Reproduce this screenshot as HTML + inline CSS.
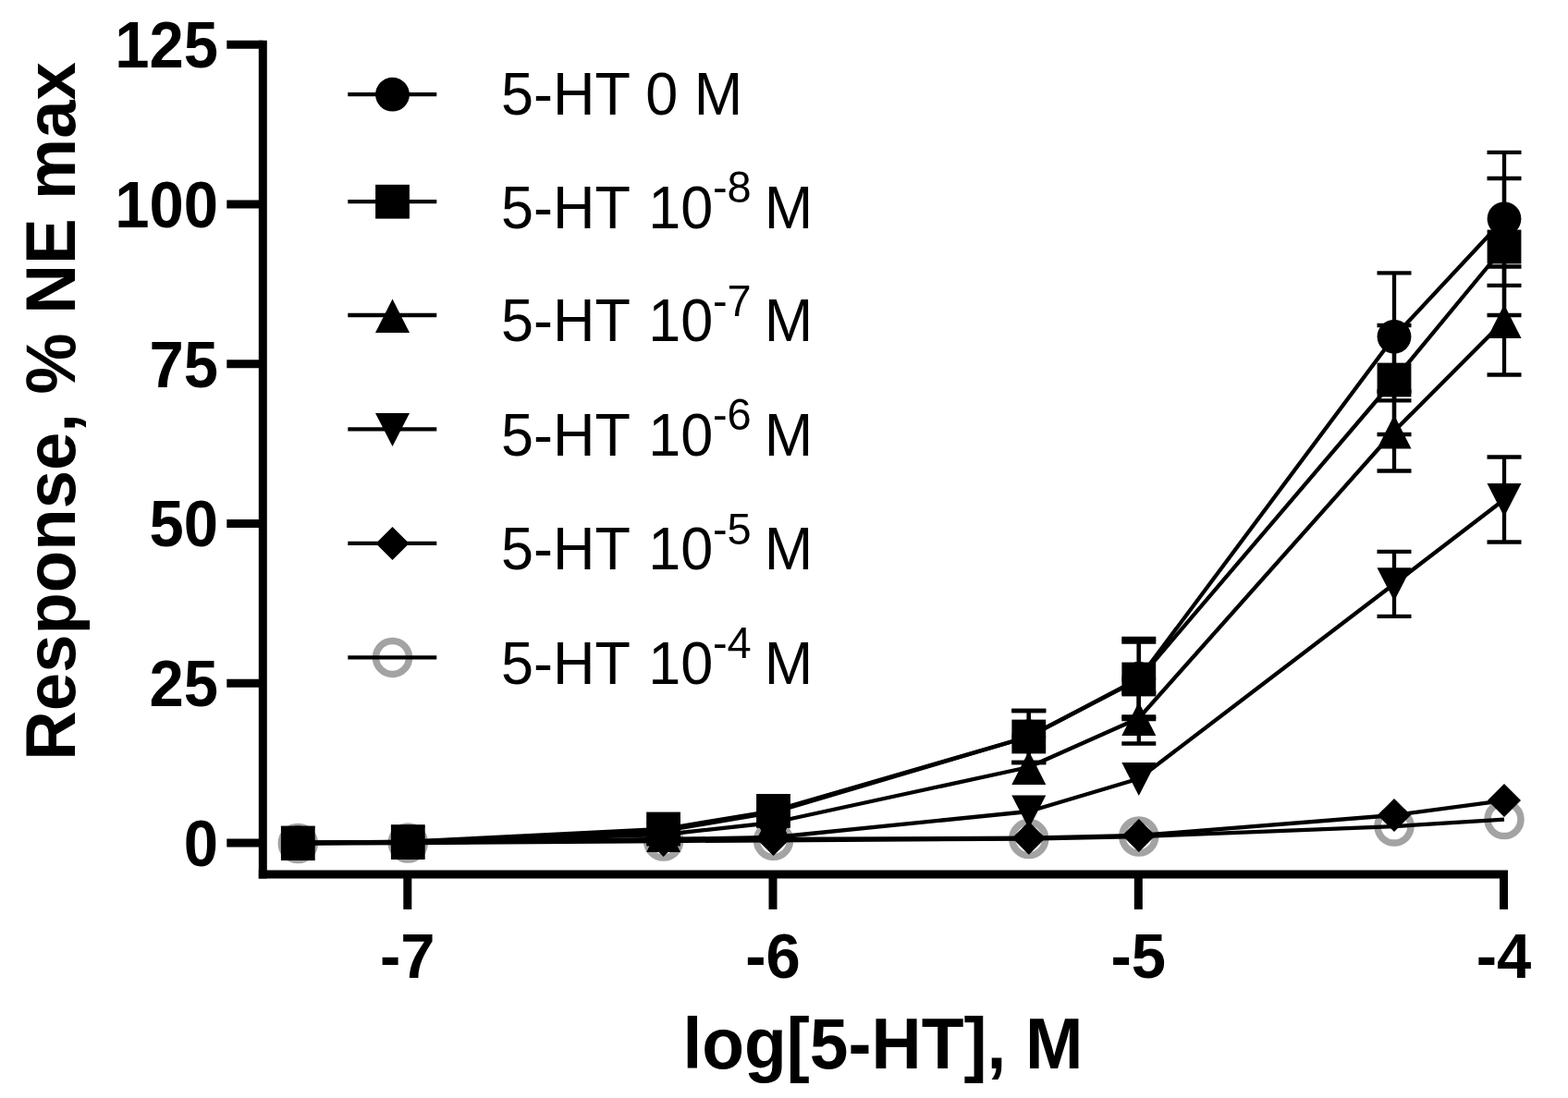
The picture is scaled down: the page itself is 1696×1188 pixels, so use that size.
<!DOCTYPE html>
<html lang="en">
<head>
<meta charset="utf-8">
<title>5-HT concentration response</title>
<style>
html, body { margin: 0; padding: 0; background: #ffffff; }
body { width: 1696px; height: 1188px; overflow: hidden; }
svg { display: block; }
#chart { width: 1696px; height: 1188px; filter: blur(0.65px); }
text { font-family: "Liberation Sans", Arial, Helvetica, sans-serif; fill: #000; }
.tick { font-weight: bold; font-size: 67px; }
.title { font-weight: bold; font-size: 75px; }
.leg { font-size: 63px; }
.sup { font-size: 47px; }
</style>
</head>
<body>
<div id="chart">
<svg width="1696" height="1188" viewBox="0 0 1696 1188">
<rect x="0" y="0" width="1696" height="1188" fill="#ffffff"/>

<g class="s-gray" fill="#000" stroke="none">
<circle cx="322.3" cy="912.5" r="18" fill="none" stroke="#a3a3a3" stroke-width="7.5"/>
<circle cx="441.3" cy="912.0" r="18" fill="none" stroke="#a3a3a3" stroke-width="7.5"/>
<circle cx="717.6" cy="910.0" r="18" fill="none" stroke="#a3a3a3" stroke-width="7.5"/>
<circle cx="836.5" cy="909.3" r="18" fill="none" stroke="#a3a3a3" stroke-width="7.5"/>
<circle cx="1112.8" cy="907.6" r="18" fill="none" stroke="#a3a3a3" stroke-width="7.5"/>
<circle cx="1231.8" cy="905.0" r="18" fill="none" stroke="#a3a3a3" stroke-width="7.5"/>
<circle cx="1508.0" cy="894.1" r="18" fill="none" stroke="#a3a3a3" stroke-width="7.5"/>
<circle cx="1627.0" cy="886.6" r="18" fill="none" stroke="#a3a3a3" stroke-width="7.5"/>
<polyline points="322.3,912.5 441.3,912.0 717.6,910.0 836.5,909.3 1112.8,907.6 1231.8,905.0 1508.0,894.1 1627.0,886.6" fill="none" stroke="#000" stroke-width="4.3" stroke-linejoin="round"/>
</g>
<g class="s-dia" fill="#000" stroke="none">
<polyline points="322.3,912.0 441.3,911.5 717.6,909.0 836.5,908.0 1112.8,906.7 1231.8,904.0 1508.0,882.0 1627.0,866.1" fill="none" stroke="#000" stroke-width="4.3" stroke-linejoin="round"/>
<polygon points="322.3,894.0 340.3,912.0 322.3,930.0 304.3,912.0"/>
<polygon points="441.3,893.5 459.3,911.5 441.3,929.5 423.3,911.5"/>
<polygon points="717.6,891.0 735.6,909.0 717.6,927.0 699.6,909.0"/>
<polygon points="836.5,890.0 854.5,908.0 836.5,926.0 818.5,908.0"/>
<polygon points="1112.8,888.7 1130.8,906.7 1112.8,924.7 1094.8,906.7"/>
<polygon points="1231.8,886.0 1249.8,904.0 1231.8,922.0 1213.8,904.0"/>
<polygon points="1508.0,864.0 1526.0,882.0 1508.0,900.0 1490.0,882.0"/>
<polygon points="1627.0,848.1 1645.0,866.1 1627.0,884.1 1609.0,866.1"/>
</g>
<g class="s-dtri" fill="#000" stroke="none">
<path d="M1508.0,596.8V666.8M1489.5,596.8h37M1489.5,666.8h37M1627.0,494.5V586.5M1608.5,494.5h37M1608.5,586.5h37" fill="none" stroke="#000" stroke-width="4.3"/>
<polyline points="322.3,912.0 441.3,911.5 717.6,908.0 836.5,906.0 1112.8,878.0 1231.8,842.5 1508.0,631.8 1627.0,540.5" fill="none" stroke="#000" stroke-width="4.3" stroke-linejoin="round"/>
<polygon points="322.3,930.5 340.8,894.5 303.8,894.5"/>
<polygon points="441.3,930.0 459.8,894.0 422.8,894.0"/>
<polygon points="717.6,926.5 736.1,890.5 699.1,890.5"/>
<polygon points="836.5,924.5 855.0,888.5 818.0,888.5"/>
<polygon points="1112.8,896.5 1131.3,860.5 1094.3,860.5"/>
<polygon points="1231.8,861.0 1250.3,825.0 1213.3,825.0"/>
<polygon points="1508.0,650.2 1526.5,614.2 1489.5,614.2"/>
<polygon points="1627.0,559.0 1645.5,523.0 1608.5,523.0"/>
</g>
<g class="s-tri" fill="#000" stroke="none">
<path d="M1231.8,749.5V804.5M1213.3,749.5h37M1213.3,804.5h37M1508.0,423.5V509.5M1489.5,423.5h37M1489.5,509.5h37M1627.0,288.5V405.5M1608.5,288.5h37M1608.5,405.5h37" fill="none" stroke="#000" stroke-width="4.3"/>
<polyline points="322.3,912.0 441.3,911.0 717.6,903.0 836.5,890.0 1112.8,830.0 1231.8,777.0 1508.0,466.5 1627.0,347.0" fill="none" stroke="#000" stroke-width="4.3" stroke-linejoin="round"/>
<polygon points="322.3,894.5 340.8,931.0 303.8,931.0"/>
<polygon points="441.3,893.5 459.8,930.0 422.8,930.0"/>
<polygon points="717.6,885.5 736.1,922.0 699.1,922.0"/>
<polygon points="836.5,872.5 855.0,909.0 818.0,909.0"/>
<polygon points="1112.8,812.5 1131.3,849.0 1094.3,849.0"/>
<polygon points="1231.8,759.5 1250.3,796.0 1213.3,796.0"/>
<polygon points="1508.0,449.0 1526.5,485.5 1489.5,485.5"/>
<polygon points="1627.0,329.5 1645.5,366.0 1608.5,366.0"/>
</g>
<g class="s-square" fill="#000" stroke="none">
<path d="M1112.8,769.0V825.0M1094.3,769.0h37M1094.3,825.0h37M1231.8,694.5V775.5M1213.3,694.5h37M1213.3,775.5h37M1508.0,352.0V470.0M1489.5,352.0h37M1489.5,470.0h37M1627.0,193.0V341.0M1608.5,193.0h37M1608.5,341.0h37" fill="none" stroke="#000" stroke-width="4.3"/>
<polyline points="322.3,912.0 441.3,910.6 717.6,897.0 836.5,877.4 1112.8,797.0 1231.8,735.0 1508.0,411.0 1627.0,267.0" fill="none" stroke="#000" stroke-width="4.3" stroke-linejoin="round"/>
<rect x="303.9" y="893.6" width="36.8" height="36.8"/>
<rect x="422.9" y="892.2" width="36.8" height="36.8"/>
<rect x="699.2" y="878.6" width="36.8" height="36.8"/>
<rect x="818.1" y="859.0" width="36.8" height="36.8"/>
<rect x="1094.4" y="778.6" width="36.8" height="36.8"/>
<rect x="1213.4" y="716.6" width="36.8" height="36.8"/>
<rect x="1489.6" y="392.6" width="36.8" height="36.8"/>
<rect x="1608.6" y="248.6" width="36.8" height="36.8"/>
</g>
<g class="s-circle" fill="#000" stroke="none">
<path d="M1112.8,769.0V825.0M1094.3,769.0h37M1094.3,825.0h37M1231.8,691.0V778.0M1213.3,691.0h37M1213.3,778.0h37M1508.0,295.3V433.3M1489.5,295.3h37M1489.5,433.3h37M1627.0,164.8V308.8M1608.5,164.8h37M1608.5,308.8h37" fill="none" stroke="#000" stroke-width="4.3"/>
<polyline points="322.3,912.0 441.3,911.0 717.6,899.0 836.5,879.0 1112.8,797.0 1231.8,734.5 1508.0,364.3 1627.0,236.8" fill="none" stroke="#000" stroke-width="4.3" stroke-linejoin="round"/>
<circle cx="322.3" cy="912.0" r="18.4"/>
<circle cx="441.3" cy="911.0" r="18.4"/>
<circle cx="717.6" cy="899.0" r="18.4"/>
<circle cx="836.5" cy="879.0" r="18.4"/>
<circle cx="1112.8" cy="797.0" r="18.4"/>
<circle cx="1231.8" cy="734.5" r="18.4"/>
<circle cx="1508.0" cy="364.3" r="18.4"/>
<circle cx="1627.0" cy="236.8" r="18.4"/>
</g>
<g fill="none" stroke="#000" stroke-width="9.0" stroke-linecap="butt">
<path d="M284.3,43.8V950.4"/>
<path d="M279.8,945.9H1631.0"/>
<path d="M245.3,912.0H284.3"/>
<path d="M245.3,739.3H284.3"/>
<path d="M245.3,566.5H284.3"/>
<path d="M245.3,393.8H284.3"/>
<path d="M245.3,221.0H284.3"/>
<path d="M245.3,48.3H284.3"/>
<path d="M440.8,945.9V983.9"/>
<path d="M836.0,945.9V983.9"/>
<path d="M1231.3,945.9V983.9"/>
<path d="M1626.5,945.9V983.9"/>
</g>
<g class="tick">
<text transform="translate(236,936.7) scale(1,1.04)" text-anchor="end">0</text>
<text transform="translate(236,764.0) scale(1,1.04)" text-anchor="end">25</text>
<text transform="translate(236,591.2) scale(1,1.04)" text-anchor="end">50</text>
<text transform="translate(236,418.5) scale(1,1.04)" text-anchor="end">75</text>
<text transform="translate(236,245.7) scale(1,1.04)" text-anchor="end">100</text>
<text transform="translate(236,73.0) scale(1,1.04)" text-anchor="end">125</text>
<text transform="translate(440.8,1058) scale(1,1.035)" text-anchor="middle">-7</text>
<text transform="translate(836.0,1058) scale(1,1.035)" text-anchor="middle">-6</text>
<text transform="translate(1231.3,1058) scale(1,1.035)" text-anchor="middle">-5</text>
<text transform="translate(1626.5,1058) scale(1,1.035)" text-anchor="middle">-4</text>
</g>
<text class="title" transform="translate(955,1155.5) scale(1,1.025)" text-anchor="middle">log[5-HT], M</text>
<text class="title" style="font-size:74.3px" transform="translate(80.6,445) rotate(-90) scale(1,1.035)" text-anchor="middle">Response, % NE max</text>
<g class="legend">
<path d="M376.3,102.2H472.3" fill="none" stroke="#000" stroke-width="4.3"/>
<circle cx="424.5" cy="102.2" r="18.4"/>
<text class="leg" transform="translate(542,123.6) scale(1,1.025)">5-HT 0 M</text>
<path d="M376.3,218.2H472.3" fill="none" stroke="#000" stroke-width="4.3"/>
<rect x="406.1" y="199.8" width="36.8" height="36.8"/>
<text class="leg" transform="translate(542,246.6) scale(1,1.025)">5-HT <tspan dx="3">10</tspan><tspan class="sup" dx="-0.5" dy="-27.12">-8</tspan><tspan dx="-3.5" dy="27.12"> M</tspan></text>
<path d="M376.3,341.0H472.3" fill="none" stroke="#000" stroke-width="4.3"/>
<polygon points="424.5,323.5 443.0,360.0 406.0,360.0"/>
<text class="leg" transform="translate(542,369.4) scale(1,1.025)">5-HT <tspan dx="3">10</tspan><tspan class="sup" dx="-0.5" dy="-27.12">-7</tspan><tspan dx="-3.5" dy="27.12"> M</tspan></text>
<path d="M376.3,464.4H472.3" fill="none" stroke="#000" stroke-width="4.3"/>
<polygon points="424.5,482.9 443.0,446.9 406.0,446.9"/>
<text class="leg" transform="translate(542,492.8) scale(1,1.025)">5-HT <tspan dx="3">10</tspan><tspan class="sup" dx="-0.5" dy="-27.12">-6</tspan><tspan dx="-3.5" dy="27.12"> M</tspan></text>
<path d="M376.3,587.9H472.3" fill="none" stroke="#000" stroke-width="4.3"/>
<polygon points="424.5,569.9 442.5,587.9 424.5,605.9 406.5,587.9"/>
<text class="leg" transform="translate(542,616.3) scale(1,1.025)">5-HT <tspan dx="3">10</tspan><tspan class="sup" dx="-0.5" dy="-27.12">-5</tspan><tspan dx="-3.5" dy="27.12"> M</tspan></text>
<circle cx="424.5" cy="711.4" r="18" fill="none" stroke="#a3a3a3" stroke-width="7.5"/>
<path d="M376.3,711.4H472.3" fill="none" stroke="#000" stroke-width="4.3"/>
<text class="leg" transform="translate(542,739.8) scale(1,1.025)">5-HT <tspan dx="3">10</tspan><tspan class="sup" dx="-0.5" dy="-27.12">-4</tspan><tspan dx="-3.5" dy="27.12"> M</tspan></text>
</g>
</svg>
</div>
</body>
</html>
